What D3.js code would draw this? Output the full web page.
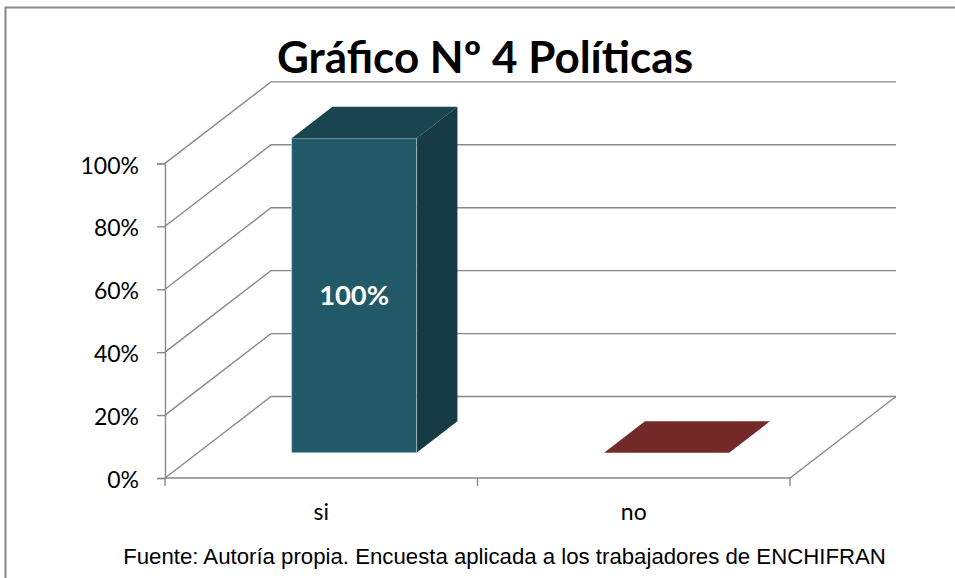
<!DOCTYPE html>
<html>
<head>
<meta charset="utf-8">
<script src="https://cdn.jsdelivr.net/npm/d3@7"></script>
<style>
  body { margin: 0; background: #fff; }
  svg { display: block; }
</style>
</head>
<body>
<div id="chart"></div>
<script>
  // datos
  var categories = ["si", "no"];
  var values = [1.0, 0.0];
  var yTicks = [0, 0.2, 0.4, 0.6, 0.8, 1.0];
  var barColors = ["#215968", "#953735"];
  var title = "Gráfico Nº 4 Políticas";
  var source = "Fuente: Autoría propia. Encuesta aplicada a los trabajadores de ENCHIFRAN";

  var width = 955;
  var height = 578;
  var x0 = 165, x1 = 790, yBase = 478, yTop = 163.4;
  var depthX = 106, depthY = -81.5;   // profundidad del piso
  var barFront = 0.31, barBack = 0.695;
  var lineColor = "#898989";

  var svg = d3.select("#chart").append("svg")
      .attr("width", width)
      .attr("height", height);

  // marco
  svg.append("path")
     .attr("d", "M5.5," + height + "V7.5H" + width)
     .attr("fill", "none")
     .attr("stroke", "#888")
     .attr("stroke-width", 2);

  var xCat = d3.scaleBand().domain(categories).range([x0, x1]);
  var x = d3.scaleBand().domain(categories).range([x0, x1])
            .paddingInner(0.6).paddingOuter(0.3);
  var y = d3.scaleLinear().domain([0, 1]).range([yBase, yTop]);

  function P(px, py, d) {
    return [px + d * depthX, py + d * depthY];
  }
  function poly(pts) {
    return "M" + pts.map(function(p) { return p[0] + "," + p[1]; }).join("L") + "Z";
  }
  function shade(c, k) {
    var r = d3.rgb(c);
    return d3.rgb(r.r * k, r.g * k, r.b * k).formatHex();
  }

  // lineas de la pared del fondo y pared izquierda
  var grid = svg.append("g")
      .attr("fill", "none")
      .attr("stroke", lineColor)
      .attr("stroke-width", 1.4);
  grid.selectAll("path.grid")
      .data(yTicks)
      .enter()
      .append("path")
      .attr("class", "grid")
      .attr("d", function(t) {
        var a = P(x0, y(t), 0), b = P(x0, y(t), 1), c = P(x1, y(t), 1);
        return "M" + a + "L" + b + "L" + c;
      });
  // borde derecho del piso
  grid.append("path")
      .attr("d", "M" + P(x1, y(0), 0) + "L" + P(x1, y(0), 1));

  // eje y
  var yAxis = svg.append("g")
      .attr("transform", "translate(" + x0 + ",0)")
      .call(d3.axisLeft(y).tickValues(yTicks)
              .tickFormat(d3.format(".0%"))
              .tickSize(8).tickPadding(18));
  yAxis.select(".domain").attr("stroke", lineColor).attr("stroke-width", 1.4);
  yAxis.selectAll(".tick line").attr("stroke", lineColor).attr("stroke-width", 1.4);
  yAxis.selectAll(".tick text")
       .attr("dy", "0.42em")
       .style("font-family", "Lato, 'Noto Sans', sans-serif")
       .style("font-size", "23px")
       .attr("fill", "#000");

  // eje x
  var xAxis = svg.append("g");
  xAxis.append("line")
       .attr("x1", x0).attr("x2", x1)
       .attr("y1", yBase).attr("y2", yBase)
       .attr("stroke", lineColor).attr("stroke-width", 1.4);
  var xt = categories.map(function(c) { return xCat(c); }).concat([x1]);
  xAxis.selectAll("line.tk")
       .data(xt)
       .enter()
       .append("line")
       .attr("class", "tk")
       .attr("x1", function(d) { return d; })
       .attr("x2", function(d) { return d; })
       .attr("y1", yBase).attr("y2", yBase + 8)
       .attr("stroke", lineColor).attr("stroke-width", 1.4);
  xAxis.selectAll("text")
       .data(categories)
       .enter()
       .append("text")
       .attr("x", function(d) { return xCat(d) + xCat.bandwidth() / 2; })
       .attr("y", 520)
       .attr("text-anchor", "middle")
       .style("font-family", "Lato, 'Noto Sans', sans-serif")
       .style("font-size", "23px")
       .text(function(d) { return d; });

  // barras 3d
  var bars = svg.append("g");
  categories.forEach(function(c, i) {
    var v = values[i];
    var xl = x(c), xr = x(c) + x.bandwidth();
    var yb = y(0), yv = y(v);
    var col = barColors[i];
    var g = bars.append("g");
    // cara lateral
    g.append("path")
     .attr("d", poly([P(xr, yb, barFront), P(xr, yb, barBack), P(xr, yv, barBack), P(xr, yv, barFront)]))
     .attr("fill", shade(col, 0.66));
    // cara frontal
    if (v > 0) {
      g.append("path")
       .attr("d", poly([P(xl, yb, barFront), P(xr, yb, barFront), P(xr, yv, barFront), P(xl, yv, barFront)]))
       .attr("fill", col)
       .attr("stroke", "#cfdde1")
       .attr("stroke-width", 0.6);
    }
    // cara superior
    g.append("path")
     .attr("d", poly([P(xl, yv, barFront), P(xr, yv, barFront), P(xr, yv, barBack), P(xl, yv, barBack)]))
     .attr("fill", shade(col, 0.77));

    if (v > 0) {
      var lp = P((xl + xr) / 2, (yb + yv) / 2, barFront);
      g.append("text")
       .attr("class", "lbl")
       .attr("x", lp[0])
       .attr("y", lp[1])
       .attr("dy", "0.36em")
       .attr("text-anchor", "middle")
       .attr("fill", "#fff")
       .style("font-family", "Lato, 'Noto Sans', sans-serif")
       .style("font-weight", "bold")
       .style("font-size", "24px")
       .text(d3.format(".0%")(v));
    }
  });

  // ajusta el tamano de letra a un ancho
  function fit(sel, w) {
    var fs = parseFloat(sel.style("font-size"));
    var len = sel.node().getComputedTextLength();
    sel.style("font-size", (fs * w / len).toFixed(2) + "px");
  }

  var t = svg.append("text")
      .attr("x", 485)
      .attr("y", 73)
      .attr("text-anchor", "middle")
      .style("font-family", "Lato, 'Noto Sans', sans-serif")
      .style("font-weight", "bold")
      .style("font-size", "38px")
      .text(title);
  fit(t, 416);

  var f = svg.append("text")
      .attr("x", 504.5)
      .attr("y", 564)
      .attr("text-anchor", "middle")
      .style("font-family", "'Liberation Sans Narrow', 'Liberation Sans', Arial, sans-serif")
      .style("font-size", "20px")
      .text(source);
  fit(f, 763);

  fit(svg.select("text.lbl"), 70);
</script>
</body>
</html>
